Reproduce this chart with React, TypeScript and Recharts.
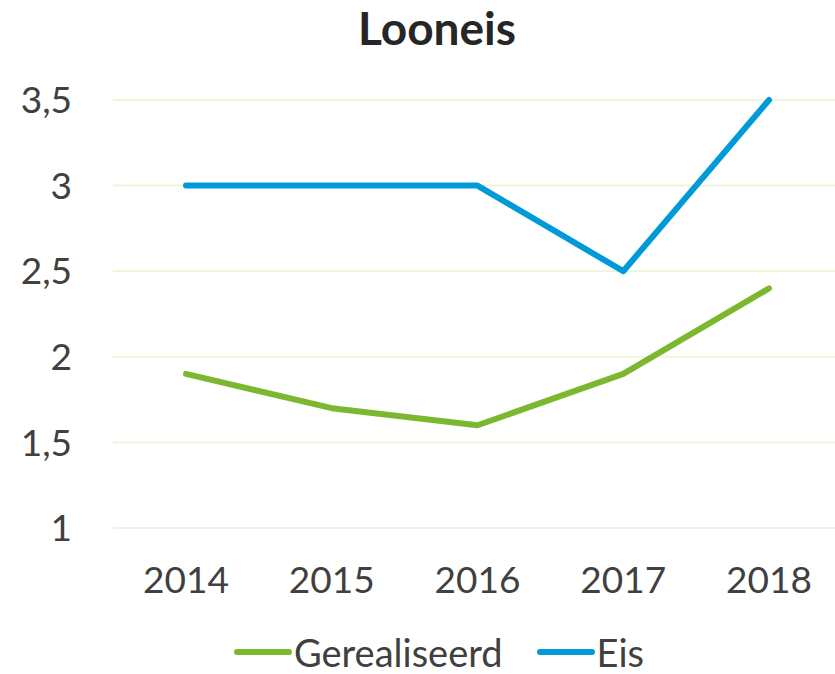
import { LineChart, Line, XAxis, YAxis, CartesianGrid, Legend } from "recharts";

const years = ["2014", "2015", "2016", "2017", "2018"];
const gerealiseerd = [1.9, 1.7, 1.6, 1.9, 2.4];
const eis = [3, 3, 3, 2.5, 3.5];
const yTicks = [1, 1.5, 2, 2.5, 3, 3.5];
const seriesOrder = ["Gerealiseerd", "Eis"];

const data = years.map((year, i) => ({
  year,
  Gerealiseerd: gerealiseerd[i],
  Eis: eis[i],
}));

const font = "Lato, 'Open Sans', sans-serif";

function LegendContent({ payload }: any) {
  const items = [...(payload || [])].sort(
    (a: any, b: any) => seriesOrder.indexOf(a.value) - seriesOrder.indexOf(b.value)
  );
  return (
    <div
      style={{
        height: 44,
        display: "flex",
        justifyContent: "center",
        alignItems: "center",
        fontFamily: font,
        fontSize: 38,
        lineHeight: "44px",
        color: "#404040",
        paddingLeft: 36,
      }}
    >
      {items.map((p: any) => (
        <div key={p.value} style={{ display: "flex", alignItems: "center", margin: "0 17px" }}>
          <svg width={58} height={10} style={{ marginRight: 2 }}>
            <line x1={3} y1={5} x2={55} y2={5} stroke={p.color} strokeWidth={6} strokeLinecap="round" />
          </svg>
          <span>{p.value}</span>
        </div>
      ))}
    </div>
  );
}

export default function App() {
  return (
    <div
      style={{
        position: "absolute",
        left: 0,
        top: 0,
        width: 835,
        height: 674,
        overflow: "hidden",
        background: "#fff",
      }}
    >
      <div
        style={{
          position: "absolute",
          top: 0,
          left: 0,
          width: 874,
          textAlign: "center",
          fontFamily: font,
          fontWeight: 700,
          fontSize: 46,
          color: "#262626",
        }}
      >
        Looneis
      </div>
      <LineChart
        width={850}
        height={674}
        data={data}
        margin={{ top: 100, right: 8, bottom: 0, left: 0 }}
      >
        <CartesianGrid vertical={false} stroke="#eef5dd" strokeWidth={2} />
        <XAxis
          dataKey="year"
          axisLine={false}
          tickLine={false}
          tickSize={0}
          tickMargin={39}
          height={102}
          padding={{ left: 73, right: 73 }}
          tick={{ fill: "#404040", fontSize: 37, fontFamily: font }}
        />
        <YAxis
          domain={[1, 3.5]}
          ticks={yTicks}
          width={113}
          axisLine={false}
          tickLine={false}
          tickSize={0}
          tickMargin={41}
          tickFormatter={(v: number) => String(v).replace(".", ",")}
          tick={{ fill: "#404040", fontSize: 37, fontFamily: font }}
        />
        <Legend verticalAlign="bottom" content={<LegendContent />} />
        <Line
          dataKey="Gerealiseerd"
          stroke="#7cb82f"
          strokeWidth={6}
          dot={false}
          strokeLinecap="round"
          strokeLinejoin="round"
          isAnimationActive={false}
        />
        <Line
          dataKey="Eis"
          stroke="#009ad9"
          strokeWidth={6}
          dot={false}
          strokeLinecap="round"
          strokeLinejoin="round"
          isAnimationActive={false}
        />
      </LineChart>
    </div>
  );
}
